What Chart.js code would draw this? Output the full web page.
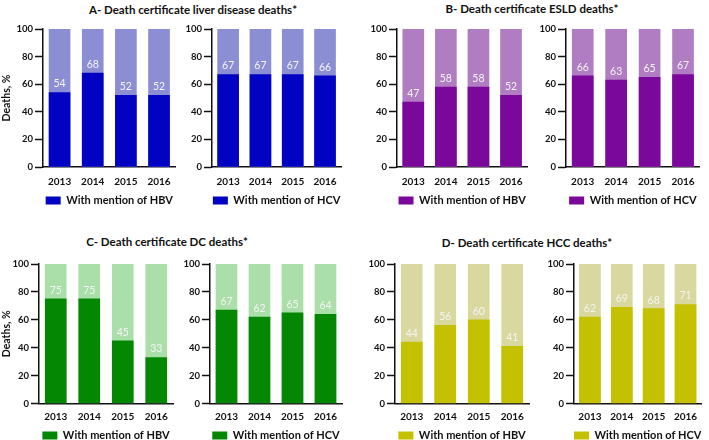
<!DOCTYPE html>
<html>
<head>
<meta charset="utf-8">
<script src="https://cdn.jsdelivr.net/npm/chart.js@4.4.1/dist/chart.umd.min.js"></script>
<style>
body { margin:0; width:709px; height:440px; background:#fff; position:relative; overflow:hidden; font-family:Lato, sans-serif; }
.titulo { position:absolute; font-weight:bold; font-size:11.5px; color:#111; white-space:nowrap; transform:translate(-50%,-50%); }
canvas { position:absolute; }
</style>
</head>
<body>
<div class="titulo" style="left:193px;top:9px">A- Death certificate liver disease deaths*</div>
<div class="titulo" style="left:532px;top:8px">B- Death certificate ESLD deaths*</div>
<div class="titulo" style="left:167px;top:241px">C- Death certificate DC deaths*</div>
<div class="titulo" style="left:527px;top:242px">D- Death certificate HCC deaths*</div>

<canvas id="a1" width="180" height="198" style="left:0px;top:20px"></canvas>
<canvas id="a2" width="177" height="198" style="left:169px;top:20px"></canvas>
<canvas id="b1" width="178" height="198" style="left:354px;top:20px"></canvas>
<canvas id="b2" width="181" height="198" style="left:523px;top:20px"></canvas>
<canvas id="c1" width="176" height="198" style="left:0px;top:255px"></canvas>
<canvas id="c2" width="178" height="198" style="left:167px;top:255px"></canvas>
<canvas id="d1" width="180" height="198" style="left:352px;top:255px"></canvas>
<canvas id="d2" width="174" height="198" style="left:531px;top:255px"></canvas>

<script>
// datos
const anios = ['2013', '2014', '2015', '2016']
const total = [100, 100, 100, 100]
const ticksY = [0, 20, 40, 60, 80, 100]

const hepaticaHBV = [54, 68, 52, 52]
const hepaticaHCV = [67, 67, 67, 66]
const esldHBV = [47, 58, 58, 52]
const esldHCV = [66, 63, 65, 67]
const dcHBV = [75, 75, 45, 33]
const dcHCV = [67, 62, 65, 64]
const hccHBV = [44, 56, 60, 41]
const hccHCV = [62, 69, 68, 71]

const colores = {
  A: ['#0202c2', '#8c8ed4'],
  B: ['#7a089a', '#b07cc2'],
  C: ['#048804', '#aadfaa'],
  D: ['#c3c100', '#d9d89e']
}

Chart.defaults.font.family = 'Lato'
Chart.defaults.color = '#111'

// etiqueta blanca encima de la parte oscura de cada barra
const etiquetas = {
  id: 'etiquetas',
  afterDatasetsDraw(chart) {
    const ctx = chart.ctx
    const meta = chart.getDatasetMeta(0)
    ctx.save()
    ctx.font = '10.5px Lato'
    ctx.fillStyle = '#f4f4f4'
    ctx.textAlign = 'center'
    ctx.textBaseline = 'middle'
    meta.data.forEach((barra, i) => {
      ctx.fillText(chart.data.datasets[0].data[i], barra.x, barra.y - 8.5)
    })
    ctx.restore()
  }
}

function panel(id, valores, color, virus, conTitulo, anchoY, altoX){
  new Chart(document.getElementById(id), {
    type: 'bar',
    data: {
      labels: anios,
      datasets: [
        { label: 'With mention of ' + virus, data: valores, backgroundColor: color[0], grouped: false, barThickness: 21 },
        { label: 'total', data: total, backgroundColor: color[1], grouped: false, barThickness: 21 }
      ]
    },
    options: {
      responsive: false,
      animation: false,
      layout: { padding: { top: 9, right: 3, left: 0, bottom: 2 } },
      plugins: {
        tooltip: { enabled: false },
        legend: {
          position: 'bottom',
          fullSize: false,
          labels: {
            filter: item => item.datasetIndex === 0,
            boxWidth: 15,
            boxHeight: 8,
            padding: 4,
            color: '#111',
            font: { size: 11, weight: 'bold' }
          }
        }
      },
      scales: {
        x: {
          grid: { display: false, drawTicks: false },
          border: { color: '#111', width: 1.5 },
          ticks: { padding: altoX - 15, font: { size: 10, weight: 'bold' }, color: '#111' },
          afterFit: s => { s.height = altoX }
        },
        y: {
          min: 0,
          max: 100,
          afterBuildTicks: s => { s.ticks = ticksY.map(v => ({ value: v })) },
          grid: { drawOnChartArea: false, tickLength: 8, tickColor: '#111', tickWidth: 1.5 },
          border: { color: '#111', width: 1.5 },
          ticks: { padding: 2, font: { size: 9.5, weight: 'bold' }, color: '#111' },
          title: { display: conTitulo, text: 'Deaths, %', padding: 0, font: { size: 10.5, weight: 'bold' }, color: '#111' },
          afterFit: s => { s.width = anchoY }
        }
      }
    },
    plugins: [etiquetas]
  })
}

panel('a1', hepaticaHBV, colores.A, 'HBV', true, 43, 24)
panel('a2', hepaticaHCV, colores.A, 'HCV', false, 43, 24)
panel('b1', esldHBV, colores.B, 'HBV', false, 43, 24)
panel('b2', esldHCV, colores.B, 'HCV', false, 43, 24)
panel('c1', dcHBV, colores.C, 'HBV', true, 39, 22.5)
panel('c2', dcHCV, colores.C, 'HCV', false, 43, 22.5)
panel('d1', hccHBV, colores.D, 'HBV', false, 43, 22.5)
panel('d2', hccHCV, colores.D, 'HCV', false, 43, 22.5)
</script>
</body>
</html>
